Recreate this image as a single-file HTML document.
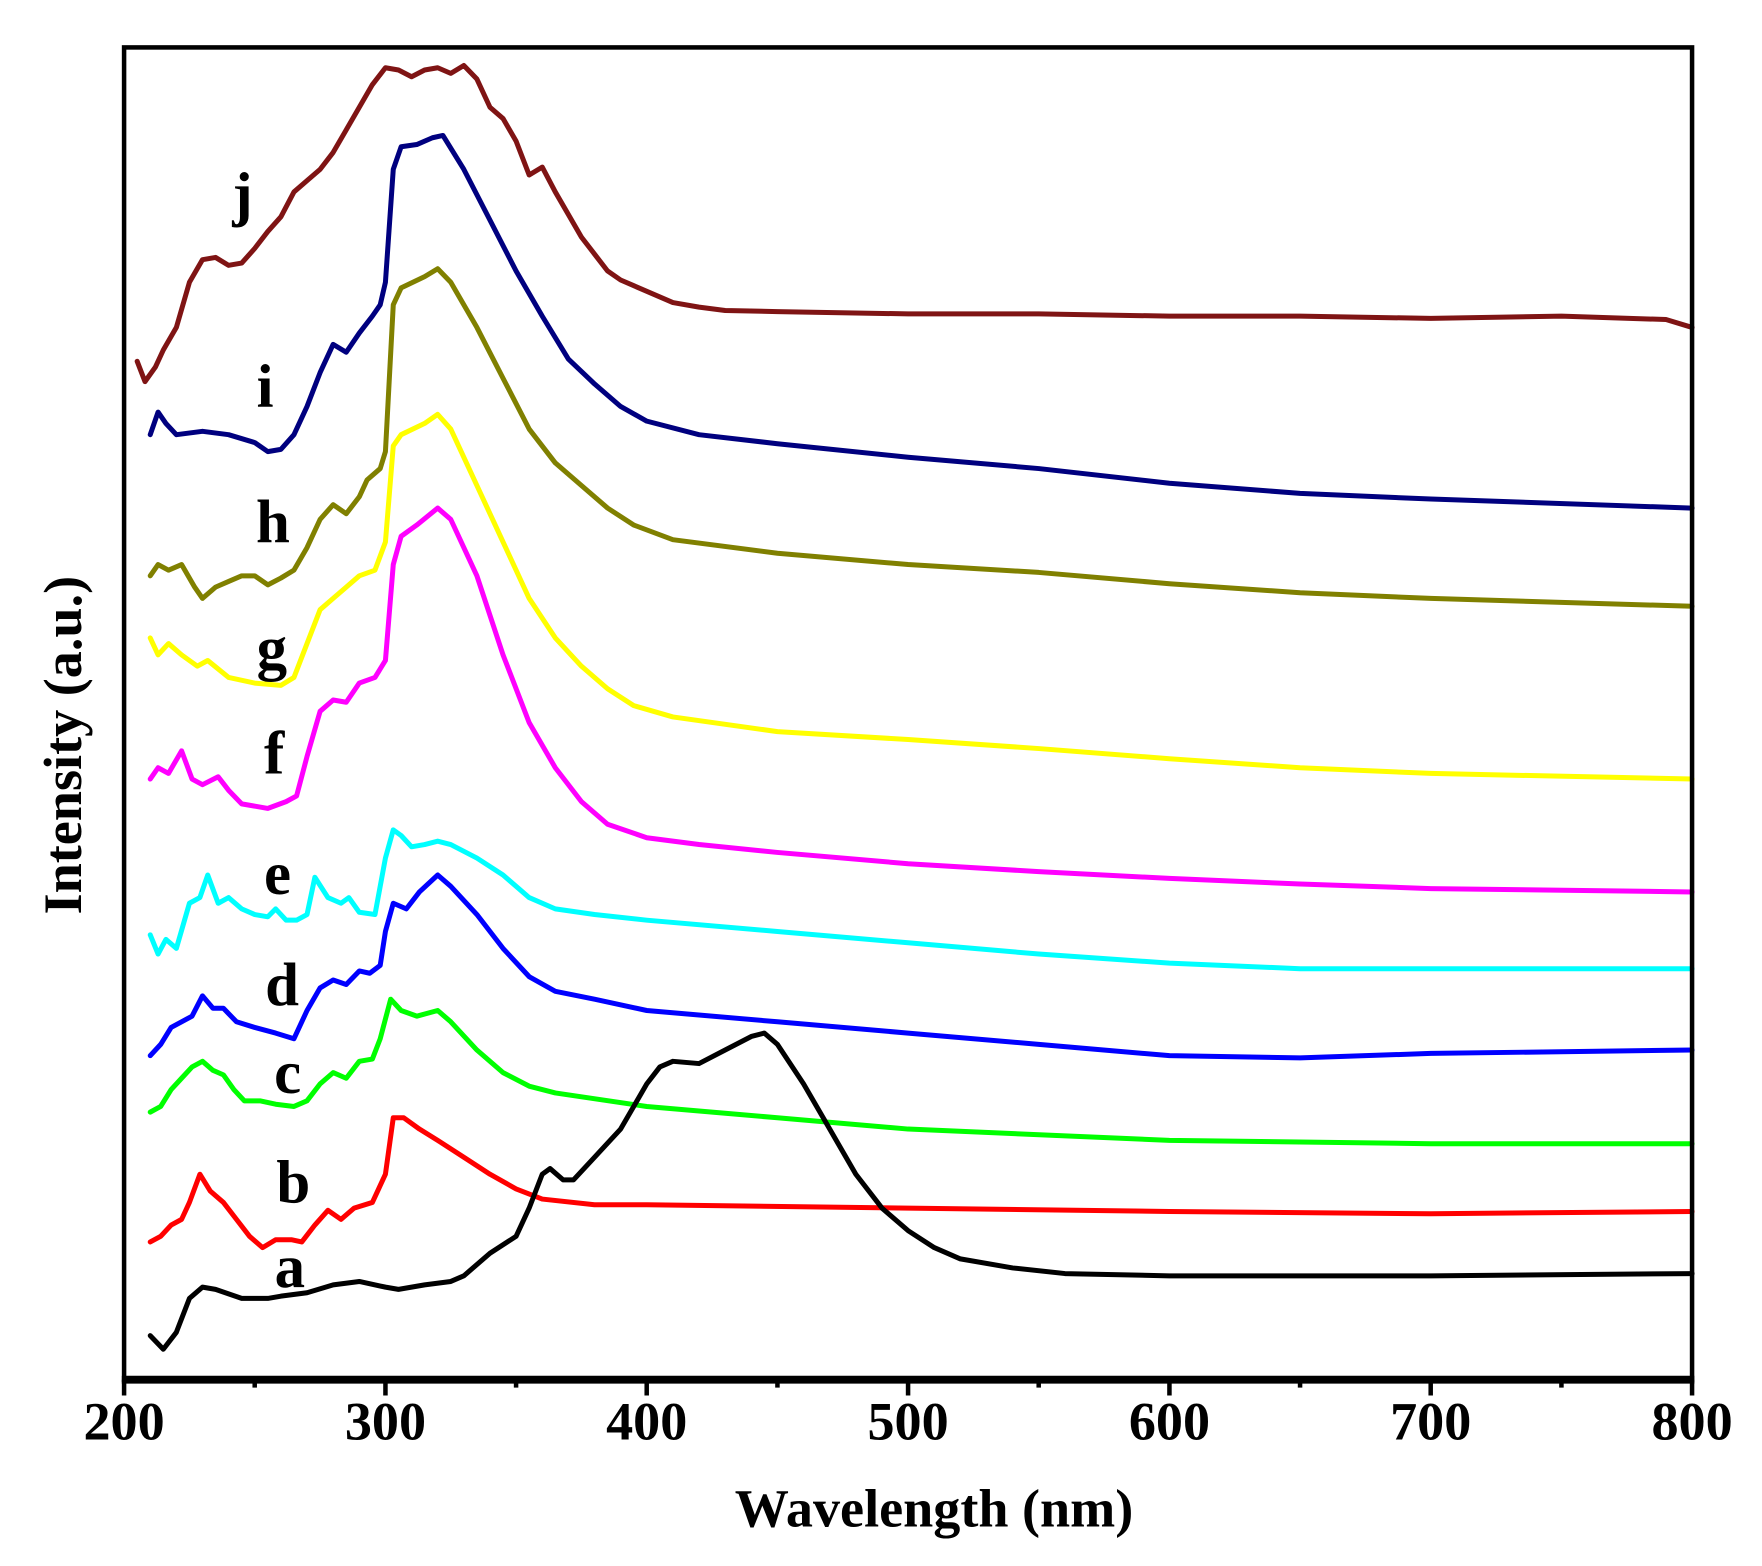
<!DOCTYPE html>
<html><head><style>html,body{margin:0;padding:0;background:#fff}svg{display:block}</style></head>
<body>
<svg width="1762" height="1566" viewBox="0 0 1562 1387" preserveAspectRatio="none" xmlns="http://www.w3.org/2000/svg">
<rect x="0" y="0" width="1562" height="1387" fill="#fff"/>
<g fill="none" stroke-width="5" stroke-linejoin="round" stroke-linecap="round" transform="matrix(2.3167,0,0,1,-353.33,0)">
<polyline vector-effect="non-scaling-stroke" stroke="#7f1414" points="205,320 208,338 212,325 215,310 220,290 225,250 230,230 235,228 240,235 245,233 250,220 255,205 260,192 265,170 270,160 275,150 280,135 285,115 290,95 295,75 300,60 305,62 310,68 315,62 320,60 325,65 330,58 335,70 340,95 345,105 350,125 355,155 360,148 365,170 370,190 375,210 380,225 385,240 390,248 400,258 410,268 420,272 430,275 450,276 500,278 550,278 600,280 650,280 700,282 750,280 790,283 800,290"/>
<polyline vector-effect="non-scaling-stroke" stroke="#00007f" points="210,385 213,365 216,375 220,385 230,382 240,385 250,392 255,400 260,398 265,385 270,360 275,330 280,305 285,312 290,295 295,280 298,270 300,250 303,150 306,130 312,128 318,122 322,120 330,150 340,195 350,240 360,280 370,318 380,340 390,360 400,373 420,385 450,393 500,405 550,415 600,428 650,437 700,442 800,450"/>
<polyline vector-effect="non-scaling-stroke" stroke="#808000" points="210,510 213,500 217,505 222,500 227,520 230,530 235,520 240,515 245,510 250,510 255,518 260,512 265,505 270,485 275,460 280,447 285,455 290,440 293,425 298,415 300,400 303,270 306,255 315,245 320,238 325,250 335,290 345,335 355,380 365,410 375,430 385,450 395,465 410,478 450,490 500,500 550,507 600,517 650,525 700,530 800,537"/>
<polyline vector-effect="non-scaling-stroke" stroke="#ffff00" points="210,565 213,580 217,570 222,580 228,590 232,585 240,600 250,605 260,607 265,600 270,570 275,540 280,530 285,520 290,510 296,505 300,480 303,395 306,385 315,375 320,367 325,380 335,430 345,480 355,530 365,565 375,590 385,610 395,625 410,635 450,648 500,655 550,663 600,672 650,680 700,685 800,690"/>
<polyline vector-effect="non-scaling-stroke" stroke="#ff00ff" points="210,690 213,680 217,685 222,665 226,690 230,695 236,688 240,700 245,712 255,716 262,710 266,705 270,670 275,630 280,620 285,622 290,605 296,600 300,585 303,500 306,475 312,465 320,450 325,460 335,510 345,580 355,640 365,680 375,710 385,730 400,742 420,748 450,755 500,765 550,772 600,778 650,783 700,787 800,790"/>
<polyline vector-effect="non-scaling-stroke" stroke="#00ffff" points="210,828 213,845 216,832 220,840 225,800 229,795 232,775 236,800 240,795 245,805 250,810 255,812 258,805 262,815 266,815 270,810 273,777 278,795 283,800 286,795 290,808 296,810 300,760 303,735 306,740 310,750 315,748 320,745 325,748 335,760 345,775 355,795 365,805 380,810 400,815 450,825 500,835 550,845 600,853 650,858 800,858"/>
<polyline vector-effect="non-scaling-stroke" stroke="#0000ff" points="210,935 214,925 218,910 222,905 226,900 230,882 234,893 238,893 243,905 250,910 258,915 265,920 270,895 275,875 280,868 285,872 290,860 294,862 298,855 300,825 303,800 308,805 313,790 320,775 325,785 335,810 345,840 355,865 365,878 380,885 400,895 450,905 500,915 550,925 600,935 650,937 700,933 800,930"/>
<polyline vector-effect="non-scaling-stroke" stroke="#00ff00" points="210,985 214,980 218,965 222,955 226,945 230,940 234,948 238,952 242,965 246,975 252,975 258,978 265,980 270,975 275,960 280,950 285,955 290,940 295,938 298,920 302,885 306,895 312,900 320,895 325,905 335,930 345,950 355,962 365,968 400,980 450,990 500,1000 600,1010 700,1013 800,1013"/>
<polyline vector-effect="non-scaling-stroke" stroke="#ff0000" points="210,1100 214,1095 218,1085 222,1080 225,1065 229,1040 233,1055 238,1065 243,1080 248,1095 253,1105 258,1098 264,1098 268,1100 273,1085 278,1072 283,1080 288,1070 295,1065 300,1040 303,990 307,990 313,1000 320,1010 330,1025 340,1040 350,1053 360,1062 380,1067 400,1067 500,1070 600,1073 700,1075 800,1073"/>
<polyline vector-effect="non-scaling-stroke" stroke="#000" points="210,1183 215,1195 220,1180 225,1150 230,1140 235,1142 245,1150 255,1150 260,1148 270,1145 280,1138 290,1135 300,1140 305,1142 315,1138 325,1135 330,1130 340,1110 350,1095 355,1070 360,1040 363,1035 368,1045 372,1045 380,1025 390,1000 400,960 405,945 410,940 420,942 430,930 440,918 445,915 450,925 460,960 470,1000 480,1040 490,1070 500,1090 510,1105 520,1115 540,1123 560,1128 600,1130 700,1130 800,1128"/>
</g>
<rect x="110" y="42" width="1390" height="1180" fill="none" stroke="#000" stroke-width="4"/>
<line x1="108" y1="1222" x2="1502" y2="1222" stroke="#000" stroke-width="7"/>
<g stroke="#000" stroke-width="4">
<line x1="110" y1="1222" x2="110" y2="1236"/><line x1="341.7" y1="1222" x2="341.7" y2="1236"/><line x1="573.3" y1="1222" x2="573.3" y2="1236"/><line x1="805" y1="1222" x2="805" y2="1236"/><line x1="1036.7" y1="1222" x2="1036.7" y2="1236"/><line x1="1268.3" y1="1222" x2="1268.3" y2="1236"/><line x1="1500" y1="1222" x2="1500" y2="1236"/>
<line x1="225.8" y1="1222" x2="225.8" y2="1229"/><line x1="457.5" y1="1222" x2="457.5" y2="1229"/><line x1="689.2" y1="1222" x2="689.2" y2="1229"/><line x1="920.8" y1="1222" x2="920.8" y2="1229"/><line x1="1152.5" y1="1222" x2="1152.5" y2="1229"/><line x1="1384.2" y1="1222" x2="1384.2" y2="1229"/>
</g>
<g font-family="'Liberation Serif',serif" font-weight="bold" font-size="48" text-anchor="middle" fill="#000">
<text x="110" y="1275">200</text><text x="341.7" y="1275">300</text><text x="573.3" y="1275">400</text><text x="805" y="1275">500</text><text x="1036.7" y="1275">600</text><text x="1268.3" y="1275">700</text><text x="1500" y="1275">800</text>
<text x="828" y="1352">Wavelength (nm)</text>
<text transform="translate(72,660) rotate(-90)">Intensity (a.u.)</text>
</g>
<g font-family="'Liberation Serif',serif" font-weight="bold" font-size="54" text-anchor="middle" fill="#000">
<text x="215" y="190">j</text><text x="235" y="360">i</text><text x="242" y="480">h</text><text x="241" y="592">g</text><text x="243" y="685">f</text><text x="246" y="792">e</text><text x="250" y="890">d</text><text x="255" y="968">c</text><text x="260" y="1065">b</text><text x="257" y="1140">a</text>
</g>
</svg>
</body></html>
